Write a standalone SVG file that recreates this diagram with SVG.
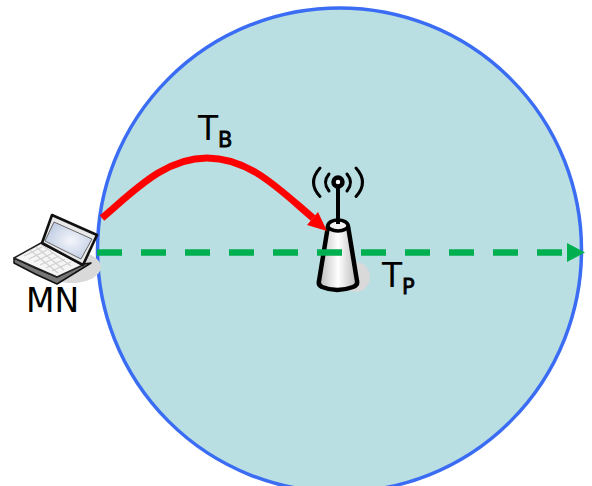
<svg xmlns="http://www.w3.org/2000/svg" width="592" height="486" viewBox="0 0 592 486">
<style>
.t{font-family:"DejaVu Sans",sans-serif;fill:#000}
.m{font-size:33px}
.s{font-size:21px;stroke:#000;stroke-width:0.8px}
.o{stroke:#000;fill:none;stroke-linejoin:round;stroke-linecap:round}
</style>
<defs>
<radialGradient id="scr" cx="0.55" cy="0.5" r="0.6"><stop offset="0" stop-color="#f4f6fb"/><stop offset="1" stop-color="#bccae2"/></radialGradient>
<linearGradient id="tw" x1="0" x2="1" y1="0" y2="0"><stop offset="0" stop-color="#b9b9b9"/><stop offset="0.5" stop-color="#ffffff"/><stop offset="1" stop-color="#b9b9b9"/></linearGradient>
</defs>
<rect width="592" height="486" fill="#fff"/>
<g id="cell"><circle cx="339.5" cy="250" r="242" fill="#b9dfe3" stroke="#3a6cf4" stroke-width="3.5"/></g>
<g id="MN">
<ellipse cx="72" cy="267" rx="29" ry="16" fill="#d9d9d9"/>
<path d="M14 258 L14 263 Q34 274 57 284 L91 263 L83 264 L57 277 Q34 268 14 258Z" fill="#777" stroke="#111" stroke-width="1.5" stroke-linejoin="round"/>
<path d="M14 258 L41 243 L83 265 L57 277Z" fill="#f5f5f5" stroke="#222" stroke-width="1.5" stroke-linejoin="round"/>
<g stroke="#d0d0d0" stroke-width="1.2" fill="none">
<path d="M24 256 L42 247M29 259 L47 250M34 262 L53 253M40 265 L59 256M46 268 L65 259M52 271 L71 262"/>
<path d="M30 250 L58 273M36 247 L64 270M42 245 L71 266"/>
</g>
<path d="M52 215 L97 235 L83 265 L42 243Z" fill="#e9e9e9" stroke="#111" stroke-width="2.6" stroke-linejoin="round"/>
<path d="M54 222 L92 239 L81 259 L45 241Z" fill="url(#scr)" stroke="#666" stroke-width="1"/>
</g>
<g id="AP">
<ellipse cx="356" cy="277" rx="14" ry="15" fill="#d9d9d9"/>
<path d="M328 226 L319 281 Q318 285 322 287 Q337 293 353 287 Q358 285 357 281 L348 226Z" fill="url(#tw)" stroke="#000" stroke-width="4.5" stroke-linejoin="round"/>
<ellipse cx="338" cy="225.500" rx="10" ry="5.500" fill="#f2f2f2" stroke="#000" stroke-width="3.5"/>
<path d="M338 182 L338 224" stroke="#000" stroke-width="4"/>
<circle cx="338" cy="182" r="4.500" fill="#fff" stroke="#000" stroke-width="4.500"/>
<path class="o" stroke-width="3" d="M329 174 Q322 182.500 329 191M347 174 Q354 182.500 347 191M320 168 Q307 182.500 320 196.500M356 168 Q369 182.500 356 196.500"/>
</g>
<g id="connectors">
<path d="M102 218 C135 190 165 158 207 158 C250 158 280 190 313 218" fill="none" stroke="#ff0000" stroke-width="7"/>
<path d="M327 231 L307 225 L318 212Z" fill="#ff0000"/>
<path d="M97 252.500 H565" fill="none" stroke="#00b050" stroke-width="6.500" stroke-dasharray="25 19"/>
<path d="M567 243 L585 252.500 L567 262Z" fill="#00b050"/>
</g>
<g id="labels">
<text class="t m" x="198" y="140">T</text><text class="t s" x="218" y="147">B</text>
<text class="t m" x="382" y="287">T</text><text class="t s" x="402" y="294">P</text>
<text class="t m" x="26" y="312">MN</text>
</g>
</svg>
